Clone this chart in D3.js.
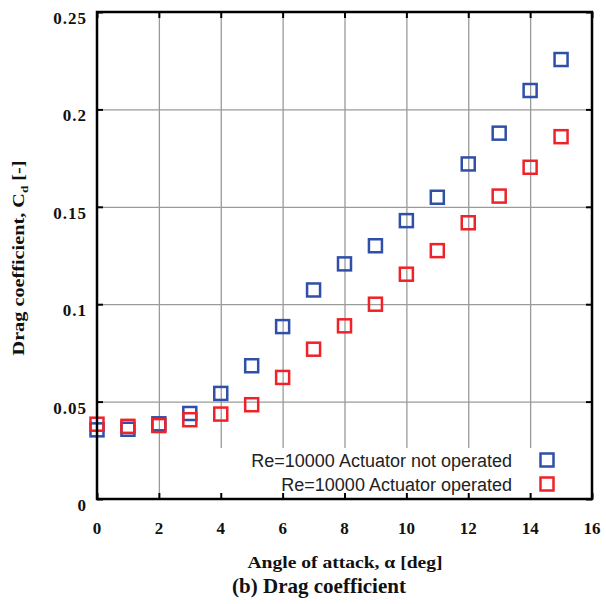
<!DOCTYPE html>
<html lang="en">

<head>
  <meta charset="utf-8">
  <title>Drag coefficient</title>
  <script src="https://cdn.jsdelivr.net/npm/d3@7"></script>
  <style>
    body {
      margin: 0;
      background: #fff;
    }

    .grid line {
      stroke: #9a9a9a;
      stroke-width: 1.3;
    }

    .grid path,
    .grid text {
      display: none;
    }

    .ticks path {
      display: none;
    }

    .ticks line {
      stroke: #000;
      stroke-width: 2;
    }

    .label {
      font-family: "Liberation Serif", "Times New Roman", serif;
      font-weight: bold;
      fill: #111;
    }

    .legend text {
      font-family: "Liberation Sans", Arial, sans-serif;
      font-size: 18px;
      fill: #222;
    }
  </style>
</head>

<body>
  <div id="box"></div>
  <script>
    const width = 606
    const height = 604

    // 绘图区
    const plot = { left: 97, right: 592, top: 12, bottom: 499 }

    // 数据
    const alpha = [0, 1, 2, 3, 4, 5, 6, 7, 8, 9, 10, 11, 12, 13, 14, 15]
    const cdNotOperated = [0.0355, 0.0358, 0.0386, 0.0439, 0.0542, 0.0684, 0.0885, 0.1073,
      0.1207, 0.130, 0.1429, 0.1549, 0.172, 0.1878, 0.2097, 0.2256]
    const cdOperated = [0.0384, 0.0373, 0.0377, 0.0407, 0.0436, 0.0484, 0.0624, 0.0769,
      0.0889, 0.100, 0.1154, 0.1275, 0.1418, 0.1555, 0.1703, 0.186]
    const xTicks = [0, 2, 4, 6, 8, 10, 12, 14, 16]
    const yTicks = [0, 0.05, 0.1, 0.15, 0.2, 0.25]
    const yTickLabels = ['0', '0.05', '0.1', '0.15', '0.2', '0.25']
    const seriesNames = ['Re=10000 Actuator not operated', 'Re=10000 Actuator operated']
    const colors = ['#2f4fa8', '#ee2228']

    const xScale = d3.scaleLinear().domain([0, 16]).range([plot.left, plot.right])
    const yScale = d3.scaleLinear().domain([0, 0.25]).range([plot.bottom, plot.top])

    const svg = d3.select('#box')
      .append('svg')
      .attr('width', width)
      .attr('height', height)

    // 网格线
    svg.append('g')
      .attr('class', 'grid')
      .attr('transform', `translate(0,${plot.bottom})`)
      .call(d3.axisBottom(xScale).tickValues(xTicks.slice(1, -1)).tickSize(-(plot.bottom - plot.top)))
    svg.append('g')
      .attr('class', 'grid')
      .attr('transform', `translate(${plot.left},0)`)
      .call(d3.axisLeft(yScale).tickValues(yTicks.slice(1, -1)).tickSize(-(plot.right - plot.left)))

    // 数据点
    const size = 13
    const series = [cdNotOperated, cdOperated]
    series.forEach((values, k) => {
      svg.append('g')
        .selectAll('rect')
        .data(values)
        .enter()
        .append('rect')
        .attr('x', (d, i) => xScale(alpha[i]) - size / 2)
        .attr('y', d => yScale(d) - size / 2)
        .attr('width', size)
        .attr('height', size)
        .attr('fill', 'none')
        .attr('stroke', colors[k])
        .attr('stroke-width', 2.5)
    })

    // 图例
    const legend = svg.append('g').attr('class', 'legend')
    legend.append('rect')
      .attr('x', 200)
      .attr('y', 448)
      .attr('width', plot.right - 200)
      .attr('height', plot.bottom - 448)
      .attr('fill', '#fff')
    seriesNames.forEach((name, k) => {
      const cy = 460 + k * 24
      legend.append('text')
        .attr('x', 512)
        .attr('y', cy + 7)
        .attr('text-anchor', 'end')
        .text(name)
      legend.append('rect')
        .attr('x', 547 - size / 2)
        .attr('y', cy - size / 2)
        .attr('width', size)
        .attr('height', size)
        .attr('fill', 'none')
        .attr('stroke', colors[k])
        .attr('stroke-width', 2.5)
    })

    // 内向刻度
    svg.append('g').attr('class', 'ticks')
      .attr('transform', `translate(0,${plot.bottom})`)
      .call(d3.axisTop(xScale).tickValues(xTicks).tickSize(6).tickFormat(''))
    svg.append('g').attr('class', 'ticks')
      .attr('transform', `translate(0,${plot.top})`)
      .call(d3.axisBottom(xScale).tickValues(xTicks).tickSize(6).tickFormat(''))
    svg.append('g').attr('class', 'ticks')
      .attr('transform', `translate(${plot.left},0)`)
      .call(d3.axisRight(yScale).tickValues(yTicks).tickSize(6).tickFormat(''))
    svg.append('g').attr('class', 'ticks')
      .attr('transform', `translate(${plot.right},0)`)
      .call(d3.axisLeft(yScale).tickValues(yTicks).tickSize(6).tickFormat(''))

    // 边框
    svg.append('rect')
      .attr('x', plot.left)
      .attr('y', plot.top)
      .attr('width', plot.right - plot.left)
      .attr('height', plot.bottom - plot.top)
      .attr('fill', 'none')
      .attr('stroke', '#000')
      .attr('stroke-width', 2.5)

    // 刻度标签
    svg.append('g')
      .selectAll('text')
      .data(xTicks)
      .enter()
      .append('text')
      .attr('class', 'label')
      .attr('x', d => xScale(d))
      .attr('y', 534)
      .attr('text-anchor', 'middle')
      .style('font-size', '17px')
      .text(d => d)
    svg.append('g')
      .selectAll('text')
      .data(yTicks)
      .enter()
      .append('text')
      .attr('class', 'label')
      .attr('x', 87)
      .attr('y', d => yScale(d) + 12)
      .attr('text-anchor', 'end')
      .style('font-size', '17px')
      .style('letter-spacing', '1px')
      .text((d, i) => yTickLabels[i])

    // 轴标题
    svg.append('text')
      .attr('class', 'label')
      .attr('x', 345)
      .attr('y', 568)
      .attr('text-anchor', 'middle')
      .attr('textLength', 195)
      .attr('lengthAdjust', 'spacingAndGlyphs')
      .style('font-size', '17px')
      .text('Angle of attack, α [deg]')

    const yTitle = svg.append('text')
      .attr('class', 'label')
      .attr('transform', 'translate(24,258) rotate(-90)')
      .attr('text-anchor', 'middle')
      .attr('textLength', 195)
      .attr('lengthAdjust', 'spacingAndGlyphs')
      .style('font-size', '17px')
    yTitle.append('tspan').text('Drag coefficient, C')
    yTitle.append('tspan').attr('dy', 4).style('font-size', '11px').text('d')
    yTitle.append('tspan').attr('dy', -4).text(' [-]')

    svg.append('text')
      .attr('class', 'label')
      .attr('x', 319)
      .attr('y', 593)
      .attr('text-anchor', 'middle')
      .style('font-size', '21px')
      .text('(b) Drag coefficient')
  </script>
</body>

</html>
